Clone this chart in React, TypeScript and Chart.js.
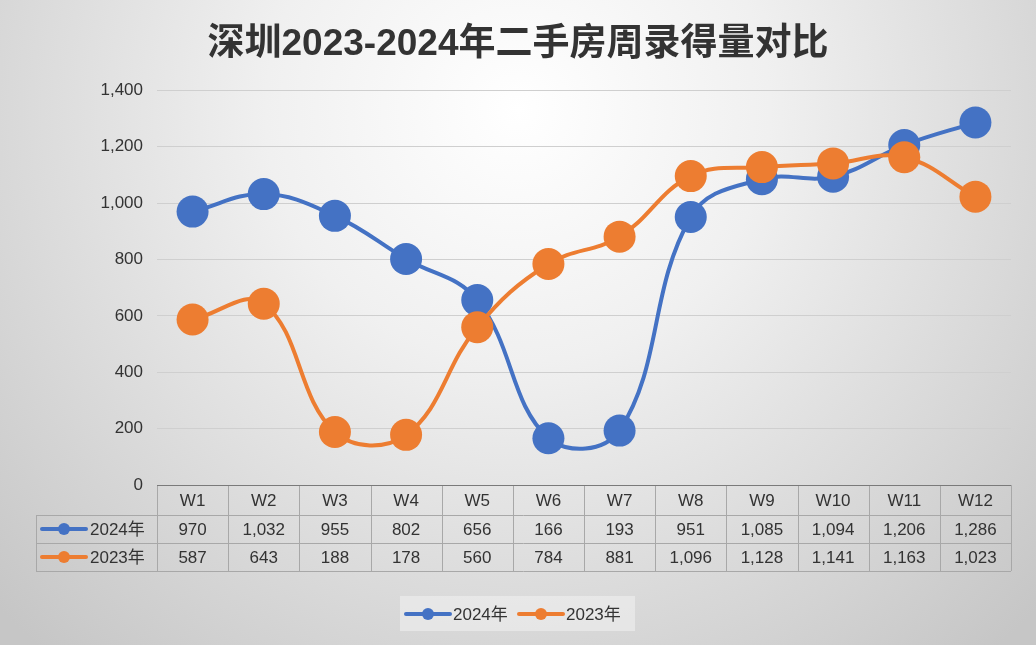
import React, { useEffect, useRef } from 'react';
import { Chart, registerables } from 'chart.js';

Chart.register(...registerables);

const categories = ['W1', 'W2', 'W3', 'W4', 'W5', 'W6', 'W7', 'W8', 'W9', 'W10', 'W11', 'W12'];
const series2024 = [970, 1032, 955, 802, 656, 166, 193, 951, 1085, 1094, 1206, 1286];
const series2023 = [587, 643, 188, 178, 560, 784, 881, 1096, 1128, 1141, 1163, 1023];
const seriesNames = ['2024年', '2023年'];
const seriesColors = ['#4472C4', '#ED7D31'];
const titleText = '深圳2023-2024年二手房周录得量对比';
const yMin = 0;
const yMax = 1400;
const yStep = 200;

const FONT = '"Liberation Sans", "Noto Sans CJK SC", sans-serif';

const fmt = (v: number) => v.toLocaleString('en-US');

const bgPlugin = {
  id: 'bgPlugin',
  beforeDraw(chart: any) {
    const { ctx, width, height } = chart;
    ctx.save();
    const g = ctx.createRadialGradient(width / 2, 110, 0, width / 2, 110, 720);
    g.addColorStop(0, '#ffffff');
    g.addColorStop(0.35, '#f0f0f0');
    g.addColorStop(1, '#c6c6c6');
    ctx.fillStyle = g;
    ctx.fillRect(0, 0, width, height);
    ctx.restore();
  },
};

function drawMarker(ctx: CanvasRenderingContext2D, x: number, y: number, color: string) {
  ctx.save();
  ctx.strokeStyle = color;
  ctx.lineWidth = 4;
  ctx.lineCap = 'round';
  ctx.beginPath();
  ctx.moveTo(x - 22, y);
  ctx.lineTo(x + 22, y);
  ctx.stroke();
  ctx.fillStyle = color;
  ctx.beginPath();
  ctx.arc(x, y, 6, 0, Math.PI * 2);
  ctx.fill();
  ctx.restore();
}

const tablePlugin = {
  id: 'tablePlugin',
  afterDraw(chart: any) {
    const { ctx, chartArea } = chart;
    const xs = chart.scales.x;
    const n = categories.length;
    const cw = (chartArea.right - chartArea.left) / n;
    const top = chartArea.bottom;
    const rowH = [30, 28, 28];
    const labelLeft = 36;
    const r1 = top + rowH[0];
    const r2 = r1 + rowH[1];
    const r3 = r2 + rowH[2];
    const left = chartArea.left;
    const right = chartArea.right;

    ctx.save();
    ctx.strokeStyle = '#a8a8a8';
    ctx.lineWidth = 1;
    ctx.beginPath();
    ctx.moveTo(labelLeft, r1 + 0.5);
    ctx.lineTo(right, r1 + 0.5);
    ctx.moveTo(labelLeft, r2 + 0.5);
    ctx.lineTo(right, r2 + 0.5);
    ctx.moveTo(labelLeft, r3 + 0.5);
    ctx.lineTo(right, r3 + 0.5);
    ctx.moveTo(labelLeft + 0.5, r1);
    ctx.lineTo(labelLeft + 0.5, r3);
    for (let i = 0; i <= n; i++) {
      const x = Math.round(left + i * cw) + 0.5;
      ctx.moveTo(x, top);
      ctx.lineTo(x, r3);
    }
    ctx.stroke();
    ctx.strokeStyle = '#7a7a7a';
    ctx.beginPath();
    ctx.moveTo(left, top + 0.5);
    ctx.lineTo(right, top + 0.5);
    ctx.stroke();

    ctx.fillStyle = '#333333';
    ctx.font = `17px ${FONT}`;
    ctx.textAlign = 'center';
    ctx.textBaseline = 'middle';
    categories.forEach((c, i) => {
      const x = xs.getPixelForValue(i);
      ctx.fillText(c, x, (top + r1) / 2 + 1);
      ctx.fillText(fmt(series2024[i]), x, (r1 + r2) / 2 + 1);
      ctx.fillText(fmt(series2023[i]), x, (r2 + r3) / 2 + 1);
    });
    ctx.textAlign = 'left';
    drawMarker(ctx, labelLeft + 28, (r1 + r2) / 2, seriesColors[0]);
    drawMarker(ctx, labelLeft + 28, (r2 + r3) / 2, seriesColors[1]);
    ctx.fillStyle = '#333333';
    ctx.fillText(seriesNames[0], labelLeft + 54, (r1 + r2) / 2 + 1);
    ctx.fillText(seriesNames[1], labelLeft + 54, (r2 + r3) / 2 + 1);
    ctx.restore();
  },
};

const legendPlugin = {
  id: 'customLegend',
  afterDraw(chart: any) {
    const { ctx } = chart;
    ctx.save();
    ctx.fillStyle = 'rgba(240,240,240,0.6)';
    ctx.fillRect(400, 596, 235, 35);
    const cy = 614;
    ctx.font = `17px ${FONT}`;
    ctx.fillStyle = '#333333';
    ctx.textBaseline = 'middle';
    ctx.textAlign = 'left';
    drawMarker(ctx, 428, cy, seriesColors[0]);
    ctx.fillStyle = '#333333';
    ctx.fillText(seriesNames[0], 453, cy + 1);
    drawMarker(ctx, 541, cy, seriesColors[1]);
    ctx.fillStyle = '#333333';
    ctx.fillText(seriesNames[1], 566, cy + 1);
    ctx.restore();
  },
};

export default function App() {
  const canvasRef = useRef<HTMLCanvasElement | null>(null);

  useEffect(() => {
    if (!canvasRef.current) return;
    const chart = new Chart(canvasRef.current, {
      type: 'line',
      data: {
        labels: categories,
        datasets: [
          {
            label: seriesNames[0],
            data: series2024,
            borderColor: seriesColors[0],
            backgroundColor: seriesColors[0],
            pointBackgroundColor: seriesColors[0],
            pointBorderWidth: 0,
            pointRadius: 16,
            borderWidth: 4,
            tension: 0.4,
            order: 2,
          },
          {
            label: seriesNames[1],
            data: series2023,
            borderColor: seriesColors[1],
            backgroundColor: seriesColors[1],
            pointBackgroundColor: seriesColors[1],
            pointBorderWidth: 0,
            pointRadius: 16,
            borderWidth: 4,
            tension: 0.4,
            order: 1,
          },
        ],
      },
      options: {
        responsive: false,
        animation: false,
        layout: { padding: { left: 25, right: 25, top: 0, bottom: 160 } },
        plugins: {
          legend: { display: false },
          tooltip: { enabled: false },
          title: {
            display: true,
            text: titleText,
            color: '#333333',
            font: { family: FONT, size: 37, weight: 'bold' },
            padding: { top: 23, bottom: 23 },
          },
        },
        scales: {
          x: {
            display: false,
            offset: true,
          },
          y: {
            min: yMin,
            max: yMax,
            border: { display: false },
            afterFit: (s: any) => {
              s.width = 132;
            },
            grid: {
              drawTicks: false,
              color: (c: any) => (c.tick && c.tick.value === 0 ? '#7a7a7a' : '#cfcfcf'),
              lineWidth: 1,
            },
            ticks: {
              stepSize: yStep,
              padding: 14,
              color: '#333333',
              font: { family: FONT, size: 17 },
            },
          },
        },
      },
      plugins: [bgPlugin, tablePlugin, legendPlugin],
    });
    return () => chart.destroy();
  }, []);

  return (
    <div style={{ position: 'fixed', left: 0, top: 0, width: 1036, height: 645 }}>
      <canvas ref={canvasRef} width={1036} height={645} />
    </div>
  );
}
